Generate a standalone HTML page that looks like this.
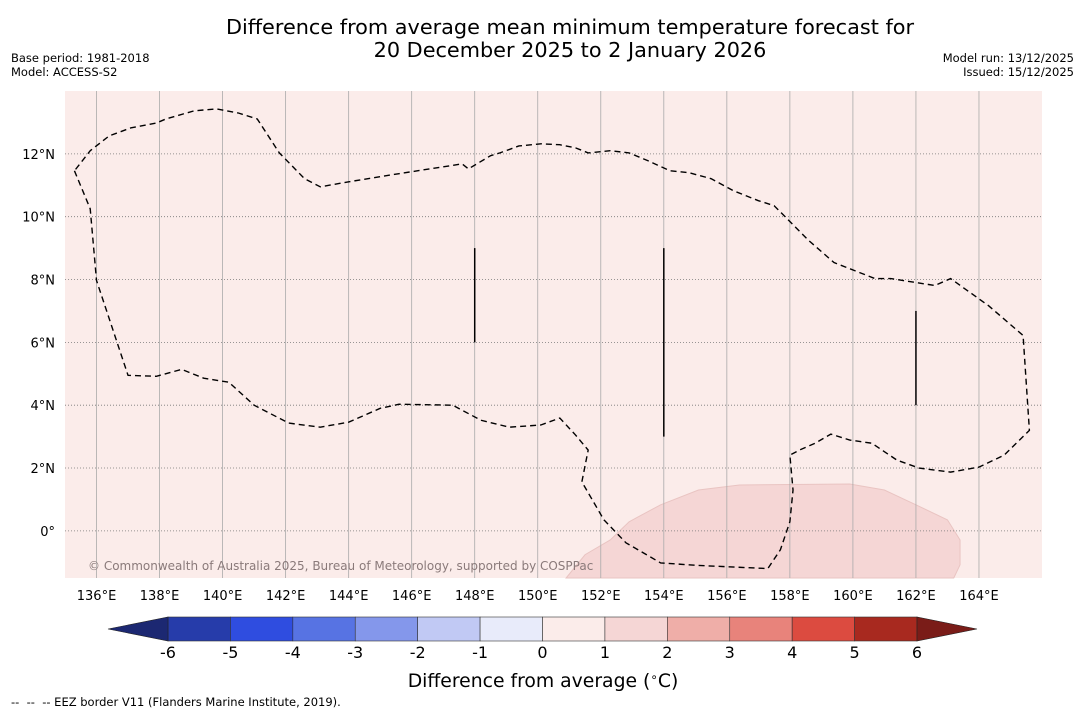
<!DOCTYPE html>
<html><head><meta charset="utf-8"><style>
body{margin:0;background:#fff;font-family:"DejaVu Sans","Liberation Sans",sans-serif;}
</style></head><body>
<svg id="c" width="1085" height="713" xmlns="http://www.w3.org/2000/svg" font-family="DejaVu Sans, Liberation Sans, sans-serif">
<text x="570" y="34" text-anchor="middle" font-size="20.8">Difference from average mean minimum temperature forecast for</text>
<text x="570" y="57" text-anchor="middle" font-size="20.8">20 December 2025 to 2 January 2026</text>
<text x="11" y="62" font-size="11.5">Base period: 1981-2018</text>
<text x="11" y="76" font-size="11.5">Model: ACCESS-S2</text>
<text x="1074" y="62" font-size="11.5" text-anchor="end">Model run: 13/12/2025</text>
<text x="1074" y="76" font-size="11.5" text-anchor="end">Issued: 15/12/2025</text>
<g id="map"></g>
<g id="cbar"></g>
<text x="543" y="687" text-anchor="middle" font-size="18.8">Difference from average (<tspan font-size="12" dy="-6">∘</tspan><tspan dy="6">C)</tspan></text>
<text x="11" y="706" font-size="11.5" xml:space="preserve">--  --  -- EEZ border V11 (Flanders Marine Institute, 2019).</text>
</svg>
<script>
const lonTicks=[136,138,140,142,144,146,148,150,152,154,156,158,160,162,164];
const latTicks=[0,2,4,6,8,10,12];
const cbLevels=[-6,-5,-4,-3,-2,-1,0,1,2,3,4,5,6];
const cbColors=["#263caa","#2f4de0","#5773e3","#8497eb","#c1c9f4","#e8ebfa","#fbecea","#f5d6d5","#efaea8","#e8837b","#dc4b40","#a8291f"];
const eezLon=[135.3,135.8,136.0,137.0,137.9,138.7,139.4,140.2,141.0,142.1,143.1,144.0,145.0,145.6,147.3,148.2,149.1,150.1,150.7,151.2,151.6,151.4,152.1,152.8,153.9,155.1,157.3,157.7,158.0,158.1,158.0,158.3,158.8,159.3,159.9,160.6,161.4,162.1,163.1,164.0,164.8,165.6,165.4,164.3,163.1,162.6,161.2,160.7,159.4,158.6,157.5,157.0,156.2,155.5,154.8,154.2,153.5,152.9,152.3,151.6,151.2,150.7,150.1,149.4,148.8,148.5,147.8,147.6,145.6,144.0,143.1,142.6,141.8,141.1,140.5,139.8,139.1,138.2,137.9,137.1,136.4,135.8,135.3];
const eezLat=[11.46,10.25,7.97,4.95,4.92,5.14,4.86,4.73,4.0,3.43,3.3,3.46,3.9,4.03,4.0,3.52,3.3,3.37,3.59,3.05,2.57,1.56,0.35,-0.38,-1.02,-1.1,-1.2,-0.6,0.29,1.3,2.41,2.57,2.79,3.08,2.89,2.79,2.25,2.0,1.87,2.03,2.41,3.2,6.22,7.17,8.03,7.81,8.03,8.03,8.54,9.24,10.35,10.51,10.83,11.21,11.4,11.46,11.78,12.03,12.1,12.03,12.19,12.29,12.32,12.25,12.03,11.94,11.52,11.68,11.37,11.11,10.95,11.21,12.03,13.11,13.3,13.43,13.37,13.11,12.98,12.83,12.57,12.1,11.46];
const blobLon=[150.9,151.5,152.3,152.9,153.9,155.1,156.4,159.9,161.0,162.0,163.0,163.4,163.4,163.2,163.1];
const blobLat=[-1.5,-0.76,-0.29,0.29,0.83,1.3,1.46,1.49,1.3,0.83,0.35,-0.29,-1.08,-1.5,-1.5];
const segLon=[148,154,162];
const segLat0=[6,3,4];
const segLat1=[9,9,7];
const NS="http://www.w3.org/2000/svg";
const X0=65,X1=1042,Y0=91,Y1=578,LON0=135,LON1=166,LAT0=-1.5,LAT1=14;
const xs=l=>X0+(l-LON0)/(LON1-LON0)*(X1-X0);
const ys=l=>Y1-(l-LAT0)/(LAT1-LAT0)*(Y1-Y0);
const CB0=168,CB1=917,CBY=617,CBH=24;
const cx=v=>CB0+(v-cbLevels[0])/(cbLevels[cbLevels.length-1]-cbLevels[0])*(CB1-CB0);
function mk(t,a,p){const e=document.createElementNS(NS,t);for(const k in a)e.setAttribute(k,a[k]);p.appendChild(e);return e;}
const map=document.getElementById('map');
let r=mk('rect',{x:X0,y:Y0,width:X1-X0,height:Y1-Y0,fill:'#fbecea'},map);


let bp=blobLon.map((l,i)=>xs(l)+','+ys(blobLat[i])).join(' ');
let b=mk('polygon',{points:bp,fill:'#f5d6d5',stroke:'#e9c4c2','stroke-width':1},map);


lonTicks.forEach(l=>{
 let g=mk('line',{x1:xs(l),x2:xs(l),y1:Y0,y2:Y1,stroke:'#aaa','stroke-width':0.8},map);
 
 
 let t=mk('text',{x:xs(l),y:600,'text-anchor':'middle','font-size':13},map);t.textContent=l+'°E';
 
 
});
latTicks.forEach(l=>{
 let g=mk('line',{x1:X0,x2:X1,y1:ys(l),y2:ys(l),stroke:'#777','stroke-width':0.8,'stroke-dasharray':'1,2'},map);
 
 
 let t=mk('text',{x:55,y:ys(l)+5,'text-anchor':'end','font-size':13},map);t.textContent=l==0?'0°':l+'°N';
 
 
});
let ep=eezLon.map((l,i)=>xs(l)+','+ys(eezLat[i])).join(' ');
let e=mk('polyline',{points:ep,fill:'none',stroke:'#000','stroke-width':1.4,'stroke-dasharray':'6,4'},map);


segLon.forEach((l,i)=>{
 let s=mk('line',{x1:xs(l),x2:xs(l),y1:ys(segLat0[i]),y2:ys(segLat1[i]),stroke:'#000','stroke-width':1.5},map);
 
 
});
let cp=mk('text',{x:88,y:570,'font-size':12,fill:'#8a7a7a'},map);
cp.textContent='© Commonwealth of Australia 2025, Bureau of Meteorology, supported by COSPPac';


const cb=document.getElementById('cbar');
for(let i=0;i<cbColors.length;i++){
 let s=mk('rect',{x:cx(cbLevels[i]),y:CBY,width:cx(cbLevels[i+1])-cx(cbLevels[i]),height:CBH,fill:cbColors[i],stroke:'#333','stroke-width':0.6},cb);
 
 
}
let la=mk('polygon',{points:`${CB0},${CBY} ${CB0},${CBY+CBH} 108,${CBY+CBH/2}`,fill:'#1c2872',stroke:'#222','stroke-width':0.6},cb);


let ra=mk('polygon',{points:`${CB1},${CBY} ${CB1},${CBY+CBH} 977,${CBY+CBH/2}`,fill:'#7a1c18',stroke:'#222','stroke-width':0.6},cb);


cbLevels.forEach(v=>{
 let t=mk('text',{x:cx(v),y:658,'text-anchor':'middle','font-size':16},cb);t.textContent=v;
 
 
});
</script>
</body></html>
